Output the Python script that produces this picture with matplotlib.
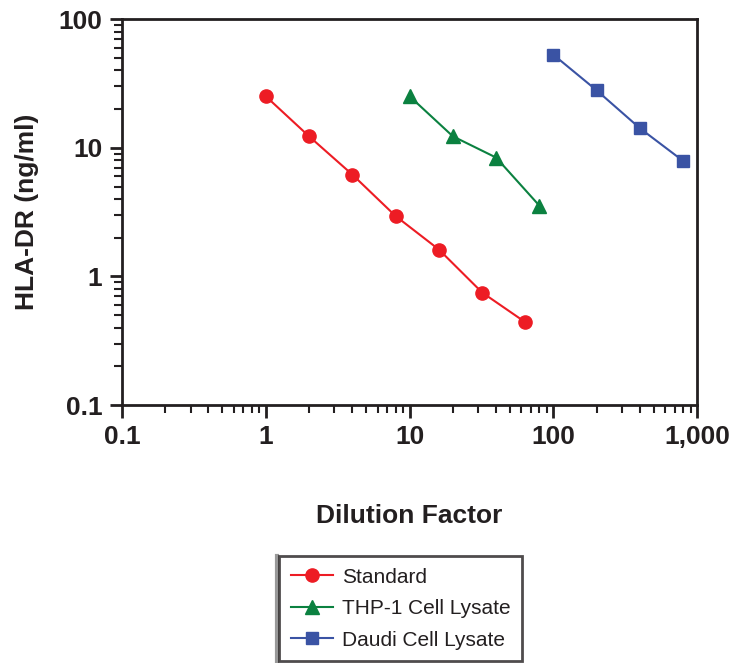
import numpy as np
import matplotlib.pyplot as plt
from matplotlib.ticker import LogLocator, FuncFormatter, NullFormatter
from matplotlib.lines import Line2D

plt.rcParams['font.family'] = ['Liberation Sans', 'DejaVu Sans']

# data
standard_x = [1, 2, 4, 8, 16, 32, 64]
standard_y = [25.2, 12.3, 6.2, 2.95, 1.62, 0.75, 0.44]
thp1_x = [10, 20, 40, 80]
thp1_y = [25.2, 12.3, 8.4, 3.55]
daudi_x = [100, 200, 400, 800]
daudi_y = [53, 28, 14.2, 7.9]
labels = ['Standard', 'THP-1 Cell Lysate', 'Daudi Cell Lysate']

red = '#ED1C24'
green = '#0B8140'
blue = '#3A53A4'
dark = '#231F20'

fig = plt.figure(figsize=(7.3, 6.63), dpi=100)
ax = fig.add_axes([0.167, 0.389, 0.788, 0.582])

ax.plot(standard_x, standard_y, color=red, marker='o', markersize=9.5, lw=1.5, label=labels[0])
ax.plot(thp1_x, thp1_y, color=green, marker='^', markersize=10, lw=1.5, label=labels[1])
ax.plot(daudi_x, daudi_y, color=blue, marker='s', markersize=8.5, lw=1.5, label=labels[2])

ax.set_xscale('log')
ax.set_yscale('log')
ax.set_xlim(0.1, 1000)
ax.set_ylim(0.1, 100)

ax.xaxis.set_major_locator(LogLocator(base=10, numticks=10))
ax.xaxis.set_minor_locator(LogLocator(base=10, subs=np.arange(2, 10), numticks=20))
ax.yaxis.set_major_locator(LogLocator(base=10, numticks=10))
ax.yaxis.set_minor_locator(LogLocator(base=10, subs=np.arange(2, 10), numticks=20))

fmt = FuncFormatter(lambda v, p: '{:,}'.format(int(round(v))) if v >= 1 else '{:g}'.format(v))
ax.xaxis.set_major_formatter(fmt)
ax.yaxis.set_major_formatter(fmt)
ax.xaxis.set_minor_formatter(NullFormatter())
ax.yaxis.set_minor_formatter(NullFormatter())

for s in ax.spines.values():
    s.set_linewidth(2)
    s.set_color(dark)
ax.tick_params(which='major', direction='out', length=9, width=2, color=dark, labelcolor=dark,
               labelsize=19, pad=5)
ax.tick_params(which='minor', direction='out', length=6, width=1.5, color=dark)
for lbl in ax.get_xticklabels() + ax.get_yticklabels():
    lbl.set_fontweight('bold')

ax.set_xlabel('Dilution Factor', fontsize=19, fontweight='bold', color=dark, labelpad=40)
ax.set_ylabel('HLA-DR (ng/ml)', fontsize=19, fontweight='bold', color=dark, labelpad=14)

leg = fig.legend(loc='upper center', bbox_to_anchor=(0.549, 0.161), fontsize=15,
                 frameon=True, fancybox=False, edgecolor=dark, handlelength=2.0,
                 handletextpad=0.45, borderpad=0.55, borderaxespad=0, labelspacing=0.6)
leg.get_frame().set_linewidth(2)
for t in leg.get_texts():
    t.set_color(dark)

fig.canvas.draw()
bb = leg.get_window_extent().transformed(fig.transFigure.inverted())
fig.add_artist(Line2D([bb.x0 - 0.004, bb.x0 - 0.004], [bb.y0 - 0.01, bb.y1], color='#999999', lw=3,
                      transform=fig.transFigure))

fig.savefig('out.png', dpi=100)
